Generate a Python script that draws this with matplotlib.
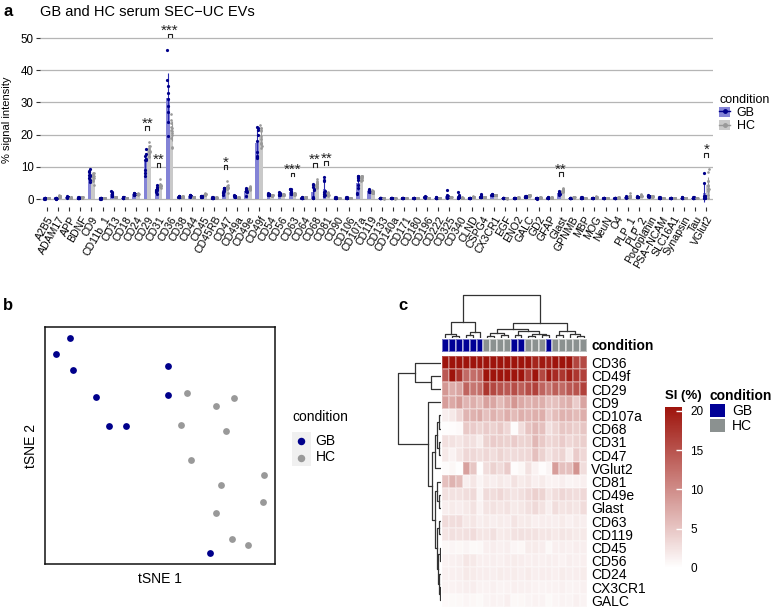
import numpy as np
import matplotlib
matplotlib.use("Agg")
import matplotlib.pyplot as plt
from matplotlib.colors import LinearSegmentedColormap, ListedColormap
from matplotlib.patches import Patch, Rectangle
from matplotlib.lines import Line2D

plt.rcParams['font.family'] = ['Liberation Sans', 'DejaVu Sans']

# samples, in the column order of the heatmap
condition = ['GB'] * 6 + ['HC'] * 4 + ['GB'] * 2 + ['HC'] * 3 + ['GB'] + ['HC'] * 5
tsne1 = [-11.8, -13.6, -11.4, -8.4, -6.6, -4.4, 3.5, 7.3, 9.6, 2.8, 1.1,
         1.0, 8.6, 4.0, 13.6, 6.5, 8.0, 13.4, 7.3, 9.4, 11.5]
tsne2 = [13.6, 11.6, 9.6, 6.2, 2.5, 2.5, 6.6, 5.0, 6.0, 2.6, 10.1,
         6.4, 1.8, -1.8, -3.7, -13.6, -5.0, -7.1, -8.5, -11.8, -12.6]

markers = ['A2B5', 'ADAM17', 'APP', 'BDNF', 'CD9', 'CD11b_1', 'CD13', 'CD18', 'CD24', 'CD29',
           'CD31', 'CD36', 'CD38', 'CD44', 'CD45', 'CD45RB', 'CD47', 'CD49a', 'CD49e', 'CD49f',
           'CD54', 'CD56', 'CD63', 'CD64', 'CD68', 'CD81', 'CD90', 'CD106', 'CD107a', 'CD119',
           'CD133', 'CD140a', 'CD171', 'CD180', 'CD196', 'CD222', 'CD325', 'CD340', 'CLND', 'CSPG4',
           'CX3CR1', 'EGF', 'ENO2', 'GALC', 'GD2', 'GFAP', 'Glast', 'GPNMB', 'MBP', 'MOG',
           'NeuN', 'O4', 'PLP_1', 'PLP_2', 'Podoplanin', 'PSA\u2212NCAM', 'SLC16A1', 'Synapsin', 'Tau', 'VGlut2']

# % signal intensity per sample, markers shown in the heatmap
si_heat = {
    'CD36':   [46.4, 37.0, 33.0, 31.0, 29.0, 27.0, 26.5, 24.5, 23.5, 22.5, 35.0, 24.0, 21.5, 19.0, 20.0, 19.5, 21.0, 20.5, 22.0, 16.2, 15.7],
    'CD49f':  [14.5, 22.4, 18.0, 13.0, 12.6, 13.5, 22.9, 22.0, 21.5, 22.0, 21.5, 22.0, 17.0, 21.0, 16.0, 20.0, 18.5, 17.5, 19.5, 17.5, 16.5],
    'CD29':   [9.0, 7.2, 8.0, 13.5, 12.0, 12.5, 17.6, 16.0, 15.0, 14.5, 15.5, 14.0, 15.5, 16.5, 13.5, 12.0, 14.0, 13.0, 14.5, 15.0, 16.5],
    'CD9':    [8.5, 7.5, 8.8, 6.5, 7.0, 6.0, 8.2, 7.8, 6.0, 7.5, 9.2, 7.5, 6.8, 7.2, 7.0, 5.4, 5.5, 6.5, 7.0, 4.5, 8.0],
    'CD107a': [1.5, 2.0, 3.5, 6.5, 6.8, 7.3, 5.5, 6.8, 6.0, 7.1, 6.0, 7.0, 6.5, 7.0, 7.1, 4.5, 5.8, 6.8, 6.5, 6.0, 7.0],
    'CD68':   [0.2, 0.3, 0.5, 4.8, 4.5, 3.8, 4.5, 4.0, 4.8, 3.5, 0.4, 3.0, 5.2, 6.3, 5.5, 2.8, 3.8, 5.0, 4.8, 4.2, 5.0],
    'CD31':   [2.8, 2.5, 2.2, 3.0, 2.8, 1.7, 4.0, 4.5, 4.2, 4.0, 4.5, 3.8, 4.0, 6.3, 4.8, 3.5, 3.8, 4.5, 3.5, 4.0, 4.2],
    'CD47':   [2.0, 1.2, 2.2, 3.5, 3.4, 3.0, 3.5, 3.0, 3.8, 3.2, 3.2, 3.3, 3.5, 5.5, 4.0, 2.5, 3.4, 3.8, 1.8, 4.5, 3.5],
    'VGlut2': [0.4, 0.8, 0.2, 8.2, 5.0, 0.2, 3.0, 4.0, 3.2, 4.5, 0.3, 0.8, 2.5, 1.2, 0.3, 1.0, 8.5, 5.5, 5.5, 9.3, 3.0],
    'CD81':   [5.5, 6.7, 5.8, 1.5, 2.2, 1.0, 1.8, 1.5, 2.0, 1.6, 2.5, 1.8, 2.2, 1.4, 1.8, 1.2, 1.2, 1.5, 1.0, 1.2, 1.4],
    'CD49e':  [2.8, 2.5, 2.6, 3.0, 3.3, 1.0, 3.2, 3.0, 3.5, 2.8, 2.4, 2.8, 3.4, 4.1, 3.8, 2.2, 3.0, 3.6, 3.2, 3.0, 3.4],
    'Glast':  [1.5, 1.8, 1.6, 2.0, 2.6, 1.2, 2.4, 2.6, 2.2, 2.5, 1.9, 2.1, 2.8, 3.3, 2.5, 1.5, 3.0, 2.4, 2.6, 2.3, 3.1],
    'CD63':   [3.2, 3.0, 3.1, 2.0, 2.2, 1.5, 1.8, 1.5, 1.7, 1.6, 2.4, 1.8, 1.9, 1.4, 1.6, 1.6, 1.5, 1.8, 1.3, 1.7, 1.5],
    'CD119':  [2.4, 2.8, 2.5, 2.8, 3.1, 2.2, 2.2, 2.8, 1.8, 2.0, 2.6, 2.7, 2.6, 2.5, 2.2, 2.3, 2.0, 2.3, 2.1, 1.9, 2.0],
    'CD45':   [0.7, 0.9, 0.8, 1.0, 0.6, 0.7, 1.4, 1.6, 1.3, 1.5, 0.9, 0.8, 1.7, 1.8, 1.6, 0.7, 1.4, 1.5, 1.3, 1.6, 1.5],
    'CD56':   [1.2, 1.3, 1.5, 2.2, 2.0, 1.4, 1.4, 1.5, 1.3, 1.6, 1.7, 1.6, 1.4, 1.5, 1.3, 1.5, 1.4, 1.2, 1.5, 1.3, 1.4],
    'CD24':   [1.3, 1.4, 1.5, 2.0, 1.8, 1.6, 1.6, 1.5, 1.7, 1.6, 1.7, 1.5, 1.8, 1.5, 1.6, 1.6, 1.4, 1.7, 1.5, 1.6, 1.7],
    'CX3CR1': [1.1, 1.2, 1.3, 1.5, 1.6, 1.2, 1.2, 1.3, 1.1, 1.2, 1.4, 1.3, 1.3, 1.2, 1.1, 1.2, 1.2, 1.3, 1.1, 1.2, 1.3],
    'GALC':   [0.5, 0.6, 0.7, 0.9, 0.8, 0.6, 1.0, 1.2, 1.1, 1.4, 0.7, 0.8, 1.0, 1.2, 1.1, 0.6, 0.9, 1.1, 1.0, 1.3, 1.1],
}

# % signal intensity per sample, remaining markers
si_other = {
    'A2B5':    [0.2, 0.1, 0.3, 0.2, 0.2, 0.1, 0.3, 0.3, 0.2, 0.4, 0.2, 0.3, 0.3, 0.2, 0.4, 0.2, 0.3, 0.3, 0.2, 0.4, 0.3],
    'ADAM17':  [0.2, 0.1, 0.3, 0.2, 0.2, 0.1, 0.8, 0.9, 0.6, 1.1, 0.3, 0.2, 0.7, 0.8, 0.9, 0.2, 0.6, 0.8, 1.0, 0.7, 0.8],
    'APP':     [0.5, 0.7, 0.6, 0.8, 0.4, 0.6, 0.4, 0.3, 0.5, 0.4, 0.7, 0.5, 0.4, 0.3, 0.5, 0.6, 0.4, 0.3, 0.5, 0.4, 0.4],
    'BDNF':    [0.4, 0.3, 0.5, 0.4, 0.3, 0.4, 0.5, 0.6, 0.4, 0.5, 0.4, 0.3, 0.6, 0.5, 0.4, 0.5, 0.5, 0.6, 0.4, 0.5, 0.5],
    'CD11b_1': [0.2, 0.2, 0.1, 0.3, 0.2, 0.2, 0.3, 0.2, 0.3, 0.4, 0.2, 0.1, 0.3, 0.3, 0.2, 0.2, 0.4, 0.3, 0.2, 0.3, 0.3],
    'CD13':    [2.5, 2.2, 1.8, 1.2, 0.9, 1.4, 0.6, 0.7, 0.5, 0.6, 1.6, 1.0, 0.7, 0.5, 0.6, 0.8, 0.6, 0.5, 0.7, 0.6, 0.6],
    'CD18':    [0.4, 0.5, 0.3, 0.4, 0.5, 0.3, 0.3, 0.2, 0.3, 0.4, 0.4, 0.5, 0.3, 0.3, 0.2, 0.4, 0.3, 0.3, 0.4, 0.2, 0.3],
    'CD38':    [0.7, 0.8, 0.6, 0.9, 0.7, 0.6, 0.7, 0.8, 0.6, 0.7, 0.8, 0.7, 0.7, 0.6, 0.8, 0.6, 0.7, 0.7, 0.8, 0.6, 0.7],
    'CD44':    [1.4, 1.2, 0.9, 1.1, 0.8, 0.7, 0.6, 0.5, 0.7, 0.6, 1.0, 0.9, 0.6, 0.7, 0.5, 1.0, 0.6, 0.6, 0.7, 0.5, 0.6],
    'CD45RB':  [0.4, 0.3, 0.5, 0.4, 0.3, 0.4, 0.4, 0.5, 0.3, 0.4, 0.5, 0.4, 0.4, 0.3, 0.5, 0.4, 0.4, 0.4, 0.3, 0.5, 0.4],
    'CD49a':   [0.9, 1.1, 0.8, 0.7, 0.6, 0.8, 0.4, 0.3, 0.5, 0.4, 0.9, 0.7, 0.4, 0.5, 0.3, 0.8, 0.4, 0.4, 0.5, 0.3, 0.4],
    'CD54':    [1.6, 1.8, 1.4, 1.5, 1.3, 1.2, 1.1, 1.2, 1.0, 1.1, 1.7, 1.5, 1.0, 1.2, 1.1, 1.4, 1.1, 1.0, 1.2, 1.1, 1.1],
    'CD64':    [0.4, 0.3, 0.5, 0.4, 0.4, 0.3, 0.5, 0.6, 0.4, 0.5, 0.4, 0.5, 0.5, 0.6, 0.4, 0.3, 0.5, 0.5, 0.6, 0.4, 0.5],
    'CD90':    [0.4, 0.5, 0.3, 0.4, 0.4, 0.3, 0.3, 0.2, 0.3, 0.4, 0.5, 0.4, 0.3, 0.2, 0.3, 0.4, 0.3, 0.3, 0.2, 0.4, 0.3],
    'CD106':   [0.4, 0.3, 0.5, 0.4, 0.3, 0.4, 0.3, 0.3, 0.2, 0.4, 0.4, 0.5, 0.3, 0.2, 0.3, 0.4, 0.3, 0.4, 0.3, 0.2, 0.3],
    'CD133':   [0.3, 0.4, 0.3, 0.2, 0.3, 0.4, 0.2, 0.2, 0.3, 0.2, 0.3, 0.3, 0.2, 0.1, 0.2, 0.3, 0.2, 0.2, 0.3, 0.2, 0.2],
    'CD140a':  [0.3, 0.3, 0.4, 0.2, 0.3, 0.3, 0.2, 0.3, 0.2, 0.2, 0.4, 0.3, 0.2, 0.2, 0.1, 0.3, 0.2, 0.3, 0.2, 0.2, 0.2],
    'CD171':   [0.3, 0.4, 0.2, 0.3, 0.3, 0.4, 0.3, 0.3, 0.2, 0.4, 0.3, 0.2, 0.3, 0.4, 0.3, 0.3, 0.3, 0.2, 0.3, 0.3, 0.4],
    'CD180':   [0.3, 0.2, 0.4, 0.3, 0.3, 0.2, 0.3, 0.4, 0.3, 0.2, 0.3, 0.4, 0.3, 0.3, 0.2, 0.3, 0.4, 0.3, 0.3, 0.2, 0.3],
    'CD196':   [0.6, 0.9, 0.5, 0.7, 0.4, 0.6, 0.3, 0.3, 0.2, 0.4, 0.7, 0.5, 0.3, 0.3, 0.2, 0.6, 0.3, 0.4, 0.3, 0.2, 0.3],
    'CD222':   [0.4, 0.5, 0.3, 0.4, 0.4, 0.3, 0.3, 0.2, 0.3, 0.3, 0.5, 0.4, 0.3, 0.4, 0.2, 0.4, 0.3, 0.3, 0.2, 0.3, 0.4],
    'CD325':   [0.5, 0.4, 0.6, 2.8, 1.2, 0.7, 0.6, 0.5, 0.7, 0.6, 0.5, 0.6, 0.6, 0.7, 0.5, 0.8, 0.6, 0.5, 0.6, 0.7, 0.6],
    'CD340':   [0.4, 0.5, 0.3, 2.2, 1.4, 0.6, 0.4, 0.3, 0.5, 0.4, 0.6, 0.7, 0.4, 0.4, 0.3, 0.5, 0.4, 0.5, 0.3, 0.4, 0.4],
    'CLND':    [0.3, 0.2, 0.3, 0.4, 0.3, 0.2, 0.6, 0.7, 0.5, 0.6, 0.3, 0.3, 0.6, 0.8, 0.5, 0.3, 0.6, 0.5, 0.7, 0.6, 0.6],
    'CSPG4':   [0.5, 0.6, 0.7, 1.6, 1.2, 0.6, 0.6, 0.5, 0.7, 0.6, 0.8, 0.6, 0.6, 0.7, 0.5, 0.7, 0.6, 0.6, 0.5, 0.7, 0.6],
    'EGF':     [0.3, 0.4, 0.2, 0.3, 0.3, 0.4, 0.2, 0.2, 0.3, 0.2, 0.3, 0.3, 0.2, 0.2, 0.1, 0.3, 0.2, 0.3, 0.2, 0.2, 0.2],
    'ENO2':    [0.3, 0.2, 0.3, 0.4, 0.3, 0.2, 0.4, 0.5, 0.3, 0.4, 0.3, 0.3, 0.4, 0.4, 0.5, 0.3, 0.4, 0.3, 0.4, 0.5, 0.4],
    'GD2':     [0.2, 0.2, 0.3, 0.2, 0.1, 0.2, 0.4, 0.5, 0.3, 0.4, 0.2, 0.3, 0.4, 0.5, 0.4, 0.2, 0.3, 0.4, 0.4, 0.5, 0.4],
    'GFAP':    [0.4, 0.3, 0.5, 0.4, 0.4, 0.3, 0.4, 0.5, 0.3, 0.4, 0.4, 0.5, 0.4, 0.4, 0.5, 0.4, 0.3, 0.4, 0.4, 0.5, 0.4],
    'GPNMB':   [0.3, 0.2, 0.3, 0.4, 0.3, 0.2, 0.5, 0.6, 0.4, 0.5, 0.3, 0.3, 0.5, 0.6, 0.5, 0.3, 0.4, 0.5, 0.6, 0.5, 0.5],
    'MBP':     [0.4, 0.5, 0.3, 0.4, 0.4, 0.3, 0.3, 0.2, 0.3, 0.4, 0.5, 0.4, 0.3, 0.3, 0.2, 0.4, 0.3, 0.3, 0.4, 0.2, 0.3],
    'MOG':     [0.3, 0.2, 0.3, 0.4, 0.3, 0.2, 0.5, 0.9, 0.4, 0.5, 0.3, 0.3, 0.6, 0.5, 0.4, 0.3, 0.5, 0.4, 0.6, 0.5, 0.5],
    'NeuN':    [0.3, 0.4, 0.3, 0.2, 0.3, 0.4, 0.3, 0.3, 0.2, 0.4, 0.3, 0.3, 0.3, 0.2, 0.3, 0.3, 0.4, 0.3, 0.3, 0.2, 0.3],
    'O4':      [0.3, 0.2, 0.3, 0.4, 0.3, 0.3, 0.4, 0.5, 0.3, 0.4, 0.3, 0.2, 0.4, 0.5, 0.4, 0.3, 0.4, 0.3, 0.5, 0.4, 0.4],
    'PLP_1':   [0.6, 0.5, 0.7, 0.9, 0.6, 0.4, 0.8, 0.7, 2.0, 0.9, 0.6, 0.5, 0.8, 0.7, 0.9, 0.6, 0.8, 0.7, 0.8, 0.9, 0.7],
    'PLP_2':   [0.6, 0.7, 0.5, 0.8, 0.6, 0.5, 1.0, 1.7, 0.9, 0.8, 0.6, 0.7, 1.1, 0.9, 1.4, 0.5, 0.8, 0.9, 1.0, 0.9, 0.8],
    'Podoplanin': [0.9, 1.2, 0.8, 1.0, 0.9, 0.7, 0.8, 0.9, 0.7, 0.8, 1.0, 0.8, 0.9, 0.8, 0.7, 0.9, 0.8, 0.9, 0.7, 0.8, 0.8],
    'PSA\u2212NCAM': [0.4, 0.5, 0.3, 0.4, 0.4, 0.3, 0.3, 0.3, 0.2, 0.4, 0.5, 0.4, 0.3, 0.2, 0.3, 0.4, 0.3, 0.4, 0.3, 0.3, 0.3],
    'SLC16A1': [0.3, 0.2, 0.4, 0.3, 0.3, 0.2, 0.3, 0.3, 0.2, 0.4, 0.3, 0.4, 0.3, 0.2, 0.3, 0.3, 0.3, 0.2, 0.3, 0.3, 0.4],
    'Synapsin': [0.4, 0.5, 0.3, 0.4, 0.4, 0.3, 0.3, 0.2, 0.3, 0.4, 0.5, 0.4, 0.3, 0.3, 0.2, 0.4, 0.3, 0.3, 0.4, 0.2, 0.3],
    'Tau':     [0.4, 0.3, 0.5, 0.4, 0.4, 0.3, 0.3, 0.3, 0.2, 0.3, 0.4, 0.5, 0.3, 0.4, 0.2, 0.4, 0.3, 0.3, 0.2, 0.3, 0.4],
}

heat_markers = ['CD36', 'CD49f', 'CD29', 'CD9', 'CD107a', 'CD68', 'CD31', 'CD47', 'VGlut2', 'CD81',
                'CD49e', 'Glast', 'CD63', 'CD119', 'CD45', 'CD56', 'CD24', 'CX3CR1', 'GALC']

signif = {'CD29': '**', 'CD31': '**', 'CD36': '***', 'CD47': '*', 'CD63': '***',
          'CD68': '**', 'CD81': '**', 'Glast': '**', 'VGlut2': '*'}

# dendrograms: (height, left, right), leaves are display positions
col_tree = (1.0,
            (0.38, (0.09, 0, (0.04, 1, 2)), (0.15, (0.06, 3, 4), 5)),
            (0.35,
             (0.22, (0.12, (0.05, 6, 7), (0.07, 8, 9)),
              (0.17, (0.06, 10, 11), (0.10, (0.05, 12, 13), (0.07, 14, 15)))),
             (0.17, (0.08, 16, 17), (0.10, 18, (0.05, 19, 20)))))
row_tree = (1.0,
            (0.61, 0, (0.23, 1, 2)),
            (0.30, 3,
             (0.20,
              (0.15, (0.09, (0.05, 4, 5), (0.04, 6, 7)), 8),
              (0.13, (0.09, 9, (0.05, 10, 11)),
               (0.10, (0.05, 12, 13), (0.08, (0.03, 14, 15), (0.05, 16, (0.02, 17, 18))))))))

GB_BAR, HC_BAR = '#8383D6', '#C9C9C9'
GB_PT, HC_PT = '#00008B', '#999999'
GB_ANN, HC_ANN = '#000096', '#8B9190'

W, H = 777, 610
def fx(px):
    return px / W
def fy(py):
    return 1 - py / H

si_all = {**si_heat, **si_other}
cond = np.array(condition)
gb_idx = np.where(cond == 'GB')[0]
hc_idx = np.where(cond == 'HC')[0]

fig = plt.figure(figsize=(W / 100, H / 100), dpi=100)

# ---------------- panel a: bar chart ----------------
ax = fig.add_axes([fx(40), fy(207.4), (713 - 40) / W, (207.4 - 20.3) / H])
x = np.arange(1, len(markers) + 1)
vals = np.array([si_all[m] for m in markers])
gb_vals, hc_vals = vals[:, gb_idx], vals[:, hc_idx]
gb_mean, hc_mean = gb_vals.mean(axis=1), hc_vals.mean(axis=1)
gb_sd, hc_sd = gb_vals.std(axis=1, ddof=1), hc_vals.std(axis=1, ddof=1)
off, bw = 0.165, 0.33

ax.bar(x - off, gb_mean, width=bw, color=GB_BAR, zorder=2)
ax.bar(x + off, hc_mean, width=bw, color=HC_BAR, zorder=2)
ax.errorbar(x - off, gb_mean, yerr=gb_sd, fmt='none', ecolor='#2B2BB0', elinewidth=0.8, capsize=0, zorder=3)
ax.errorbar(x + off, hc_mean, yerr=hc_sd, fmt='none', ecolor='#9A9A9A', elinewidth=0.8, capsize=0, zorder=3)
jit_gb = np.linspace(-0.05, 0.05, len(gb_idx))
jit_hc = np.linspace(-0.05, 0.05, len(hc_idx))
for i in range(len(markers)):
    ax.plot(x[i] - off + jit_gb, gb_vals[i], 'o', ms=2.3, color=GB_PT, mew=0, zorder=4)
    ax.plot(x[i] + off + jit_hc, hc_vals[i], 'o', ms=1.9, color=HC_PT, mew=0, zorder=4)

for m, stars in signif.items():
    i = markers.index(m)
    top = max(gb_vals[i].max(), hc_vals[i].max()) + 5.0
    ax.plot([x[i] - off, x[i] - off, x[i] + off, x[i] + off], [top - 1.2, top, top, top - 1.2],
            color='#222222', lw=0.8, zorder=5)
    ax.text(x[i], top - 0.4, stars, ha='center', va='baseline', fontsize=11, color='#222222')

ax.set_xlim(0.4, 60.6)
ax.set_ylim(-2.6, 55.5)
ax.set_yticks([0, 10, 20, 30, 40, 50])
ax.yaxis.grid(True, color='#B5B5B5', lw=0.9)
ax.set_axisbelow(True)
ax.set_xticks(x)
ax.set_xticklabels(markers, rotation=60, ha='right', rotation_mode='anchor', fontsize=7.6)
ax.tick_params(axis='both', length=3, width=0.8, color='#333333', pad=1.5)
ax.tick_params(axis='y', labelsize=8.3)
ax.tick_params(axis='x', pad=2)
for s in ax.spines.values():
    s.set_visible(False)
ax.set_ylabel('% signal intensity', fontsize=8, labelpad=2)
ax.yaxis.set_label_coords(-0.042, 0.47)
leg_a = [(Patch(facecolor=GB_BAR), Line2D([], [], color=GB_PT, marker='o', ms=2.5, lw=1)),
         (Patch(facecolor=HC_BAR), Line2D([], [], color=HC_PT, marker='o', ms=2.5, lw=1))]
ax.legend(leg_a, ['GB', 'HC'], title='condition', loc='upper left', bbox_to_anchor=(fx(719), fy(94)),
          bbox_transform=fig.transFigure, frameon=False, fontsize=9, title_fontsize=9,
          alignment='left', handlelength=0.9, handleheight=0.9, labelspacing=0.05, handletextpad=0.5,
          borderpad=0, borderaxespad=0)
fig.text(fx(40), fy(12), 'GB and HC serum SEC\u2212UC EVs', fontsize=10.5, va='center')
fig.text(fx(3), fy(11), 'a', fontsize=12, fontweight='bold', va='center')

# ---------------- panel b: tSNE ----------------
axb = fig.add_axes([fx(45), fy(564), 230 / W, 237 / H])
t1, t2 = np.array(tsne1), np.array(tsne2)
axb.scatter(t1[gb_idx], t2[gb_idx], s=24, color=GB_PT, label='GB', linewidths=0)
axb.scatter(t1[hc_idx], t2[hc_idx], s=24, color=HC_PT, label='HC', linewidths=0)
axb.set_xlim(-15, 15)
axb.set_ylim(-15, 15)
axb.set_xticks([])
axb.set_yticks([])
for s in axb.spines.values():
    s.set_linewidth(1.1)
    s.set_color('#111111')
axb.set_xlabel('tSNE 1', fontsize=10, labelpad=6)
axb.set_ylabel('tSNE 2', fontsize=10, labelpad=5)
fig.add_artist(Rectangle((fx(292), fy(466)), 19 / W, 34 / H, transform=fig.transFigure,
                         facecolor='#F0F0F0', edgecolor='none', zorder=-1))
fig.text(fx(292), fy(417), 'condition', fontsize=10, va='center')
axb.legend(loc='center left', bbox_to_anchor=(fx(292), fy(449)),
           bbox_transform=fig.transFigure, frameon=False, fontsize=10,
           handletextpad=0.35, labelspacing=0.2, borderpad=0, borderaxespad=0,
           handlelength=1.35, markerscale=1.1)
fig.text(fx(3), fy(305), 'b', fontsize=12, fontweight='bold', va='center')

# ---------------- panel c: heatmap ----------------
mat = np.array([si_all[m] for m in heat_markers])
cmap = LinearSegmentedColormap.from_list('si', ['#FFFFFF', '#9E140C'])
hx0, hx1, hy0, hy1 = 442, 587, 356, 607
axh = fig.add_axes([fx(hx0), fy(hy1), (hx1 - hx0) / W, (hy1 - hy0) / H])
mesh = axh.pcolormesh(mat, cmap=cmap, vmin=0, vmax=20.5, edgecolors=(1, 1, 1, 0.25), linewidth=0.2)
axh.set_ylim(len(heat_markers), 0)
axh.set_xlim(0, len(condition))
axh.set_xticks([])
axh.yaxis.tick_right()
axh.set_yticks(np.arange(len(heat_markers)) + 0.5)
axh.set_yticklabels(heat_markers, fontsize=10)
axh.tick_params(axis='y', length=0, pad=3)
for s in axh.spines.values():
    s.set_visible(False)

axa = fig.add_axes([fx(hx0), fy(352), (hx1 - hx0) / W, 13 / H])
codes = np.array([[0 if c == 'GB' else 1 for c in condition]])
axa.pcolormesh(codes, cmap=ListedColormap([GB_ANN, HC_ANN]), vmin=0, vmax=1,
               edgecolors=(1, 1, 1, 0.45), linewidth=0.3)
axa.set_xlim(0, len(condition))
axa.set_xticks([])
axa.set_yticks([])
for s in axa.spines.values():
    s.set_visible(False)
axa.text(1.03, 0.45, 'condition', transform=axa.transAxes, fontsize=10, fontweight='bold', va='center')


def draw_tree(a, node, side):
    if isinstance(node, int):
        return node + 0.5, 0.0
    h, left, right = node
    pl, hl = draw_tree(a, left, side)
    pr, hr = draw_tree(a, right, side)
    if side == 'top':
        a.plot([pl, pl, pr, pr], [hl, h, h, hr], color='#333333', lw=0.9)
    else:
        a.plot([-hl, -h, -h, -hr], [pl, pl, pr, pr], color='#333333', lw=0.9)
    return (pl + pr) / 2, h


axd = fig.add_axes([fx(hx0), fy(338), (hx1 - hx0) / W, 44 / H])
draw_tree(axd, col_tree, 'top')
axd.set_xlim(0, len(condition))
axd.set_ylim(0, 1.02)
axd.axis('off')

axr = fig.add_axes([fx(397), fy(hy1), 44 / W, (hy1 - hy0) / H])
draw_tree(axr, row_tree, 'left')
axr.set_ylim(len(heat_markers), 0)
axr.set_xlim(-1.02, 0)
axr.axis('off')

axc = fig.add_axes([fx(665), fy(568), 17 / W, 161 / H])
cb = fig.colorbar(mesh, cax=axc, ticks=[0, 5, 10, 15, 20])
cb.outline.set_visible(False)
axc.tick_params(direction='in', color='white', length=4, width=1, labelsize=8.5, pad=6)
fig.text(fx(665), fy(396), 'SI (%)', fontsize=9.5, fontweight='bold', va='center')

fig.legend([Patch(facecolor=GB_ANN), Patch(facecolor=HC_ANN)], ['GB', 'HC'], title='condition',
           loc='upper left', bbox_to_anchor=(fx(710), fy(389)), frameon=False, fontsize=10,
           title_fontproperties={'weight': 'bold', 'size': 10}, alignment='left',
           handlelength=1.1, handleheight=1.1, labelspacing=0.05, handletextpad=0.5,
           borderpad=0, borderaxespad=0)
fig.text(fx(398), fy(305), 'c', fontsize=12, fontweight='bold', va='center')

fig.savefig('out.png', dpi=100)
